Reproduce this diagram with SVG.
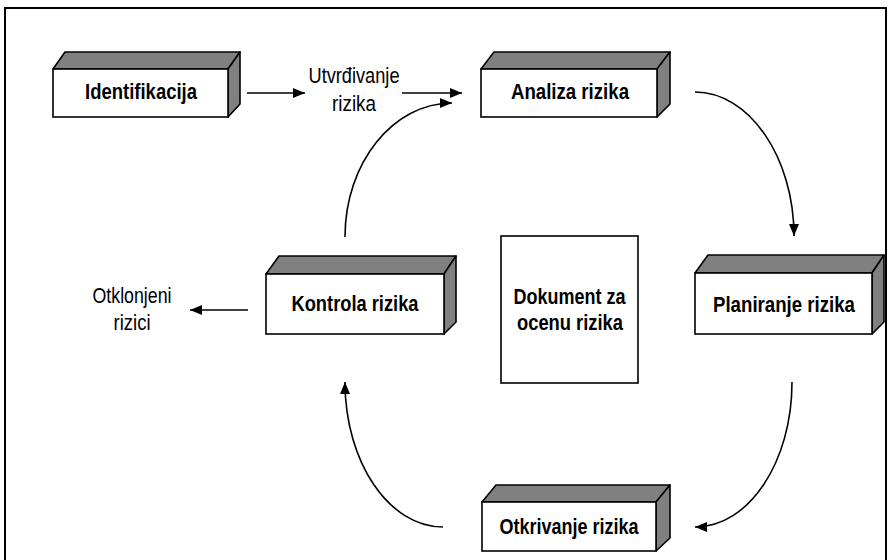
<svg xmlns="http://www.w3.org/2000/svg" width="890" height="560" viewBox="0 0 890 560">
<style>
.face{fill:#ffffff;stroke:#000;stroke-width:1.6}
.shade{fill:#808080;stroke:#000;stroke-width:1.6;stroke-linejoin:round}
.bt{font-family:"Liberation Sans",Arial,sans-serif;font-weight:bold;font-size:22.5px;fill:#000}
.lt{font-family:"Liberation Sans",Arial,sans-serif;font-size:22px;fill:#000}
.conn{fill:none;stroke:#000;stroke-width:1.6}
</style>
<defs>
<marker id="ah" markerUnits="userSpaceOnUse" markerWidth="13" markerHeight="11" refX="12" refY="5" orient="auto">
<path d="M0,0 L12,5 L0,10 z" fill="#000"/>
</marker>
</defs>
<rect x="0" y="0" width="890" height="560" fill="#fff"/>
<rect x="5" y="8" width="881" height="560" fill="none" stroke="#000" stroke-width="2"/>

<g id="identifikacija">
<polygon class="shade" points="53,69 65,52 240,52 228,69"/>
<polygon class="shade" points="228,69 240,52 240,104 228,117"/>
<rect class="face" x="53" y="69" width="175" height="48"/>
<text class="bt" x="141" y="99" text-anchor="middle" textLength="112" lengthAdjust="spacingAndGlyphs">Identifikacija</text>
</g>

<g id="analiza">
<polygon class="shade" points="481,69 494,52 670,52 657,69"/>
<polygon class="shade" points="657,69 670,52 670,104 657,117"/>
<rect class="face" x="481" y="69" width="176" height="48"/>
<text class="bt" x="570" y="99" text-anchor="middle" textLength="118" lengthAdjust="spacingAndGlyphs">Analiza rizika</text>
</g>

<g id="kontrola">
<polygon class="shade" points="266,274 279,256 456,256 444,274"/>
<polygon class="shade" points="444,274 456,256 456,322 444,334"/>
<rect class="face" x="266" y="274" width="178" height="60"/>
<text class="bt" x="355" y="311" text-anchor="middle" textLength="127" lengthAdjust="spacingAndGlyphs">Kontrola rizika</text>
</g>

<g id="planiranje">
<polygon class="shade" points="695,273 708,255 884,255 872,273"/>
<polygon class="shade" points="872,273 884,255 884,322 872,334"/>
<rect class="face" x="695" y="273" width="177" height="61"/>
<text class="bt" x="784" y="312" text-anchor="middle" textLength="142" lengthAdjust="spacingAndGlyphs">Planiranje rizika</text>
</g>

<g id="otkrivanje">
<polygon class="shade" points="482,502 496,485 670,485 656,502"/>
<polygon class="shade" points="656,502 670,485 670,538 656,551"/>
<rect class="face" x="482" y="502" width="174" height="49"/>
<text class="bt" x="569" y="534" text-anchor="middle" textLength="139" lengthAdjust="spacingAndGlyphs">Otkrivanje rizika</text>
</g>

<g id="dokument">
<rect class="face" x="501" y="236" width="137" height="147"/>
<text class="bt" x="569.5" y="304" text-anchor="middle" textLength="112" lengthAdjust="spacingAndGlyphs">Dokument za</text>
<text class="bt" x="570" y="330" text-anchor="middle" textLength="106" lengthAdjust="spacingAndGlyphs">ocenu rizika</text>
</g>

<g id="utvrdivanje">
<text class="lt" x="354" y="83" text-anchor="middle" textLength="91" lengthAdjust="spacingAndGlyphs">Utvrđivanje</text>
<text class="lt" x="354" y="111" text-anchor="middle" textLength="44" lengthAdjust="spacingAndGlyphs">rizika</text>
</g>

<g id="otklonjeni">
<text class="lt" x="132" y="303" text-anchor="middle" textLength="79" lengthAdjust="spacingAndGlyphs">Otklonjeni</text>
<text class="lt" x="132" y="330" text-anchor="middle" textLength="37" lengthAdjust="spacingAndGlyphs">rizici</text>
</g>

<g id="connectors">
<path class="conn" d="M247,93 L305,93" marker-end="url(#ah)"/>
<path class="conn" d="M402,93 L462,93" marker-end="url(#ah)"/>
<path class="conn" d="M248,310 L190,310" marker-end="url(#ah)"/>
<path class="conn" d="M345,237 C345,163 393,103 452,103" marker-end="url(#ah)"/>
<path class="conn" d="M695,92 C749,92 794,157 794,236" marker-end="url(#ah)"/>
<path class="conn" d="M792,382 C792,462 749,527 695,527" marker-end="url(#ah)"/>
<path class="conn" d="M443,527 C389,527 345,462 345,382" marker-end="url(#ah)"/>
</g>
</svg>
